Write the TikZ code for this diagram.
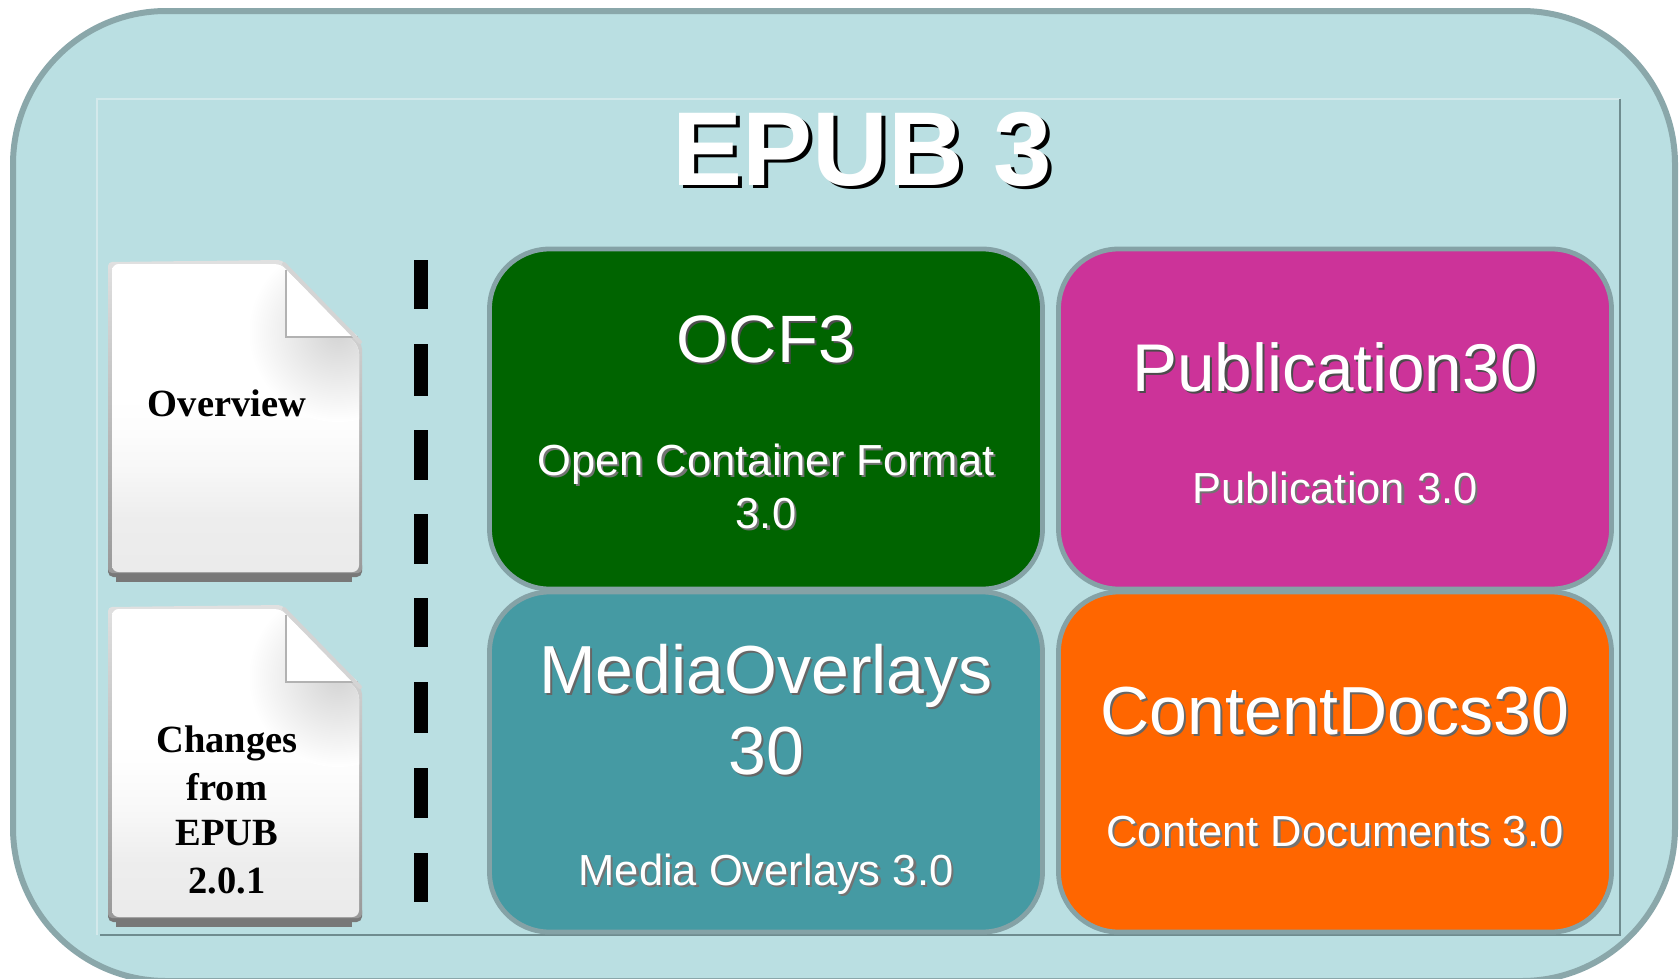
\documentclass[tikz,border=0pt]{standalone}
\usepackage{fontspec}
\setmainfont{Liberation Sans}
\newfontfamily\docfont{Liberation Serif}
\definecolor{panel}{HTML}{BADFE2}
\definecolor{rim}{HTML}{8AA7AA}
\definecolor{framelight}{HTML}{D3E9EB}
\definecolor{framedark}{HTML}{6F8C8F}
\definecolor{boxrim}{HTML}{85A2A6}
\definecolor{cgreen}{HTML}{006400}
\definecolor{cmagenta}{HTML}{CC3399}
\definecolor{cteal}{HTML}{459AA3}
\definecolor{corange}{HTML}{FF6600}
\pgfdeclareverticalshading{pagesh}{100bp}{color(0bp)=(black!8); color(25bp)=(black!8); color(34bp)=(black!7); color(42bp)=(black!3); color(48bp)=(black!1); color(53bp)=(white); color(100bp)=(white)}
\newcommand{\sizedfont}[1]{\fontsize{\dimexpr #1pt*3/4\relax}{\dimexpr #1pt*3/4\relax}\selectfont}
% white text with an offset dark copy behind it
\newcommand{\shtext}[6]{%
  \node[txt,text=#6] at (#2+2.2,#3+2.2) {\sizedfont{#4}#5};
  \node[txt,text=white] (#1) at (#2,#3) {\sizedfont{#4}#5};}
\newcommand{\sheet}[1]{%
  \begin{scope}[shift={(0,#1)}]
    \fill[black!53] (116,570) rectangle (352,582);
    \fill[black!53,rounded corners=4pt] (108,560) -- (362,560) -- (362,577) -- (108,577) -- cycle;
    \shade[top color=black!12,bottom color=black!40,rounded corners=3pt] (108,262) -- (282,260) -- (362,345) -- (362,573) -- (108,573) -- cycle;
    \begin{scope}
      \clip[rounded corners=5pt] (112,264) -- (281,264) -- (359,347) -- (359,572) -- (112,572) -- cycle;
      \shade[shading=pagesh] (108,260) rectangle (362,575);
      \shade[inner color=black!17,outer color=white] (338,332) circle (90*0.75pt);
    \end{scope}
    \fill[white] (286,270) -- (286,337) -- (358,337) -- cycle;
    \draw[black!30,line width=1pt] (286,270) -- (286,337) -- (358,337);
    \draw[black!17,line width=3pt,line cap=round] (284,264) -- (360,342);
  \end{scope}}
\tikzset{
  txt/.style={inner sep=0pt,outer sep=0pt,anchor=base,align=center},
  docline/.style={inner sep=0pt,anchor=base,text=black,font=\docfont\bfseries},
  tile/.style={draw=boxrim,line width=3.6pt,rounded corners=45pt,inner sep=0pt,outer sep=0pt,
    minimum width=414.75pt,minimum height=255pt},
  dashbar/.style={fill=black}
}
\begin{document}
\begin{tikzpicture}[x=0.75pt,y=-0.75pt]
\useasboundingbox (0,0) rectangle (1680,978);
\fill[white] (0,0) rectangle (1680,978);
% outer panel
\draw[fill=panel,draw=rim,line width=4.5pt,rounded corners=115pt] (13,11) rectangle (1675,981);
% inner frame
\draw[framelight,line width=1.5pt] (97,935) -- (97,99) -- (1620,99);
\draw[framedark,line width=1.5pt] (1620,99) -- (1620,935) -- (100,935);
% title
\node[txt,text=black] at (866,188) {\sizedfont{105}\bfseries EPUB 3};
\node[txt,text=white] (title) at (862,185) {\sizedfont{105}\bfseries EPUB 3};
% documents
\sheet{0}
\sheet{345}
\node[docline] (ov) at (227,416) {\sizedfont{38.5}Overview};
\node[docline] (c1) at (227,752) {\sizedfont{38.5}Changes};
\node[docline] (c2) at (227,800) {\sizedfont{38.5}from};
\node[docline] (c3) at (227,845) {\sizedfont{38.5}EPUB};
\node[docline] (c4) at (227,893) {\sizedfont{38.5}2.0.1};
% dashed divider
\foreach \a/\b in {260/309,344/396,430/480,514/564,598/647,682/733,768/818,853/902}
  \fill[dashbar] (414,\a) rectangle (428,\b);
% tiles
\node[tile,fill=cgreen]    (ocf) at (766,419) {};
\node[tile,fill=cmagenta]  (pub) at (1335,419) {};
\node[tile,fill=cteal]     (med) at (766,762) {};
\node[tile,fill=corange]   (con) at (1335,762) {};
% tile texts
\shtext{ocfA}{766}{362}{67}{OCF3}{black!70}
\shtext{ocfB}{766}{475}{43.5}{Open Container Format}{black!55}
\shtext{ocfC}{766}{528}{43.5}{3.0}{black!55}
\shtext{pubA}{1335}{391}{67.5}{Publication30}{black!70}
\shtext{pubB}{1335}{503}{43.5}{Publication 3.0}{black!55}
\shtext{medA}{766}{693}{68}{MediaOverlays}{black!60}
\shtext{medB}{766}{774}{68}{30}{black!60}
\shtext{medC}{766}{885}{43.5}{Media Overlays 3.0}{black!55}
\shtext{conA}{1335}{734}{68}{ContentDocs30}{black!60}
\shtext{conB}{1335}{846}{43.5}{Content Documents 3.0}{black!55}
\end{tikzpicture}
\end{document}
